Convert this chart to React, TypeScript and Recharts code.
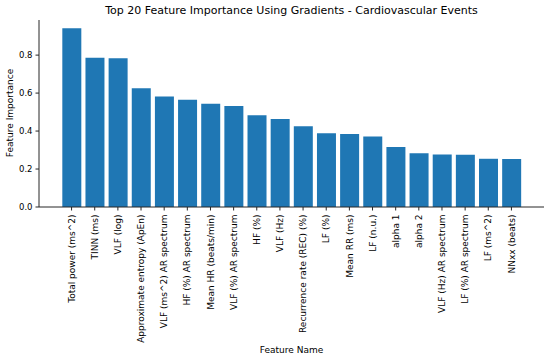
import React from 'react';
import { BarChart, Bar, XAxis, YAxis } from 'recharts';

const features: string[] = [
  'Total power (ms^2)',
  'TINN (ms)',
  'VLF (log)',
  'Approximate entropy (ApEn)',
  'VLF (ms^2) AR spectrum',
  'HF (%) AR spectrum',
  'Mean HR (beats/min)',
  'VLF (%) AR spectrum',
  'HF (%)',
  'VLF (Hz)',
  'Recurrence rate (REC) (%)',
  'LF (%)',
  'Mean RR  (ms)',
  'LF (n.u.)',
  'alpha 1',
  'alpha 2',
  'VLF (Hz) AR spectrum',
  'LF (%) AR spectrum',
  'LF (ms^2)',
  'NNxx (beats)',
];

const importance: number[] = [
  0.942, 0.786, 0.783, 0.626, 0.582, 0.565, 0.544, 0.532, 0.483, 0.463,
  0.425, 0.388, 0.384, 0.372, 0.316, 0.283, 0.277, 0.275, 0.254, 0.253,
];

const yTicks: number[] = [0, 0.2, 0.4, 0.6, 0.8];

const data = features.map((name, i) => ({ name, value: importance[i] }));

const FONT = '"DejaVu Sans", sans-serif';
const TXT = '#000';
const AX = '#262626';

const XTick = (props: any) => {
  const { x, y, payload } = props;
  return (
    <text
      transform={`translate(${x},${y}) rotate(-90)`}
      textAnchor="end"
      dy="0.35em"
      fontSize={9}
      fontFamily={FONT}
      fill={TXT}
    >
      {payload.value}
    </text>
  );
};

export default function App() {
  return (
    <div style={{ position: 'absolute', left: 0, top: 0, width: 550, height: 360, background: '#fff', fontFamily: FONT }}>
      <BarChart
        width={550}
        height={360}
        data={data}
        margin={{ top: 20, right: 6, left: 0, bottom: 0 }}
        barCategoryGap="10%"
      >
        <XAxis
          dataKey="name"
          interval={0}
          height={153}
          padding={{ left: 21, right: 21 }}
          tick={<XTick />}
          tickSize={3.5}
          tickMargin={4}
          axisLine={{ stroke: AX }}
          tickLine={{ stroke: AX }}
        />
        <XAxis
          xAxisId="top"
          dataKey="name"
          orientation="top"
          height={0}
          tick={false}
          tickLine={false}
          axisLine={{ stroke: AX }}
        />
        <YAxis
          width={39}
          domain={[0, 0.985]}
          ticks={yTicks}
          tickFormatter={(v: number) => v.toFixed(1)}
          tickSize={3.5}
          tickMargin={3}
          tick={{ fontSize: 8.5, fontFamily: FONT, fill: TXT }}
          axisLine={{ stroke: AX }}
          tickLine={{ stroke: AX }}
        />
        <YAxis
          yAxisId="right"
          orientation="right"
          width={0}
          domain={[0, 0.985]}
          tick={false}
          tickLine={false}
          axisLine={{ stroke: AX }}
        />
        <Bar dataKey="value" fill="#1f77b4" isAnimationActive={false} />
      </BarChart>
      <div style={{ position: 'absolute', left: 0, width: 583, top: 4, textAlign: 'center', fontSize: 11, lineHeight: '13px', color: TXT, whiteSpace: 'nowrap' }}>
        Top 20 Feature Importance Using Gradients - Cardiovascular Events
      </div>
      <div style={{ position: 'absolute', left: 0, width: 583, top: 345, textAlign: 'center', fontSize: 9, lineHeight: '11px', color: TXT, whiteSpace: 'nowrap' }}>
        Feature Name
      </div>
      <div
        style={{
          position: 'absolute',
          left: 10,
          top: 113,
          transform: 'translate(-50%, -50%) rotate(-90deg)',
          fontSize: 9,
          lineHeight: '11px',
          color: TXT,
          whiteSpace: 'nowrap',
        }}
      >
        Feature Importance
      </div>
    </div>
  );
}
